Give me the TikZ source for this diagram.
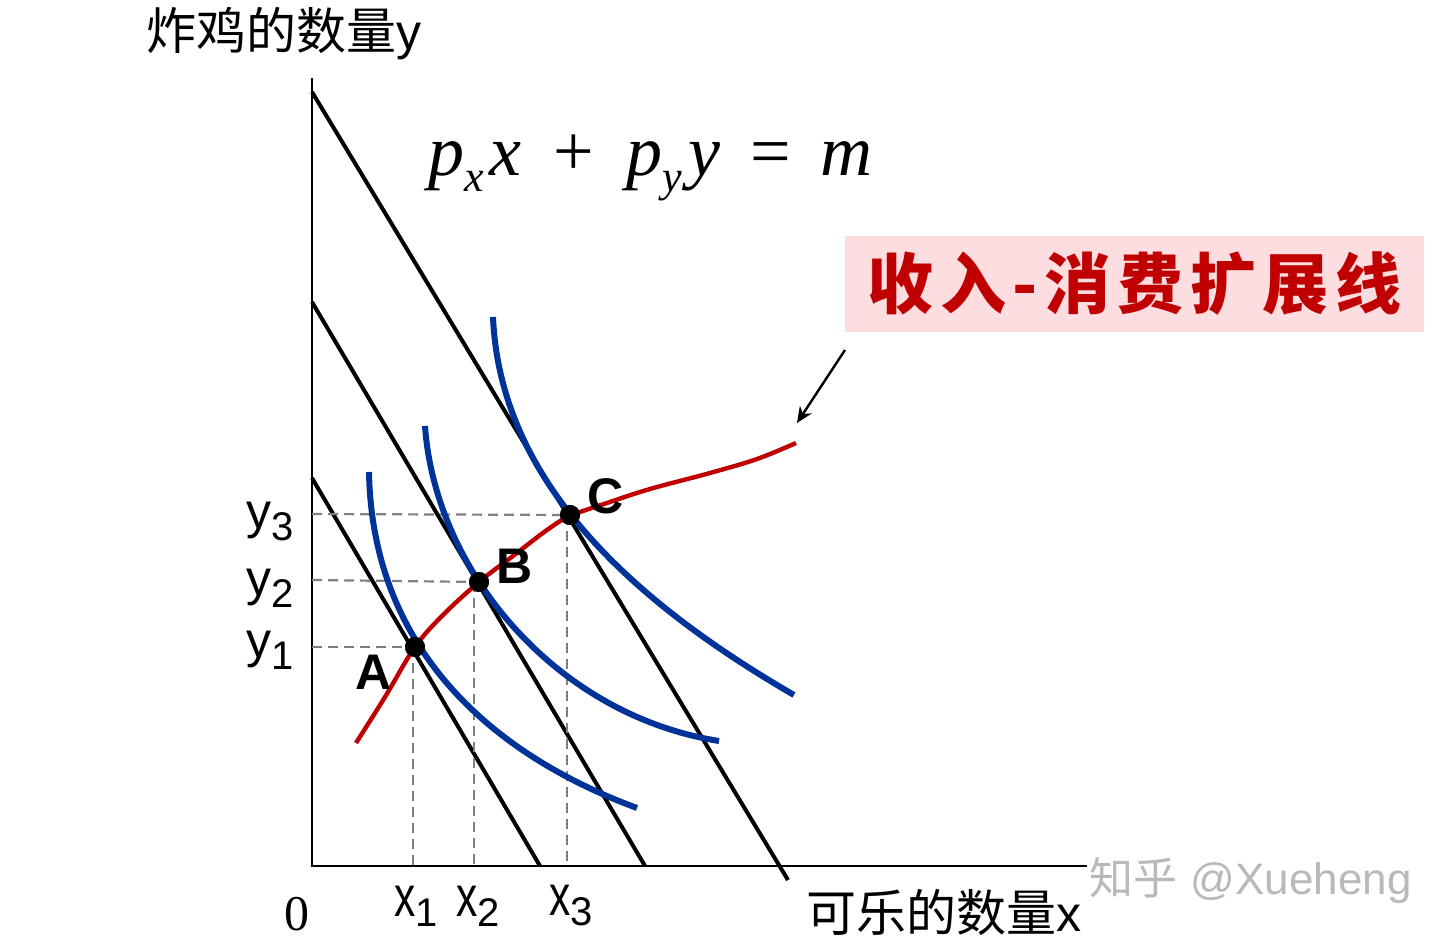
\documentclass[tikz,border=0pt]{standalone}
\usepackage{fontspec}
\usetikzlibrary{arrows.meta}
\newfontfamily\cjk{Noto Sans CJK SC}
\newfontfamily\arialf{Liberation Sans}
\newfontfamily\serf{Liberation Serif}
\definecolor{icblue}{RGB}{0,51,153}
\definecolor{eered}{RGB}{192,0,0}
\definecolor{boxpink}{RGB}{253,221,224}
\definecolor{dashgray}{RGB}{128,128,128}
\newcommand{\fsz}[1]{\fontsize{#1}{1.2\dimexpr #1\relax}\selectfont}
\tikzset{
  axisline/.style={line width=1.3pt, black},
  budget/.style={line width=2pt, black},
  icurve/.style={line width=3pt, icblue},
  eecurve/.style={line width=2.2pt, eered},
  guide/.style={line width=1.1pt, dashgray, dash pattern=on 5pt off 3pt},
  eqpt/.style={circle, fill=black, inner sep=0pt, minimum size=10pt},
  ptlabel/.style={font=\fsz{25pt}\arialf\bfseries, inner sep=0pt},
  ticklabel/.style={font=\fsz{25pt}\arialf, inner sep=0pt},
}
\newcommand{\subx}[2]{\scalebox{0.85}[1.15]{#1}\raisebox{-5pt}{\fsz{20pt}#2}}
\newcommand{\suby}[2]{#1\raisebox{-6pt}{\fsz{20pt}#2}}
\newcommand{\eqsub}[1]{\raisebox{-8pt}{\fsz{22pt}#1}\hspace{3pt}}
\begin{document}
\begin{tikzpicture}[x=0.5pt,y=-0.5pt]
\useasboundingbox (0,0) rectangle (1440,945);
% axes
\coordinate (O) at (312,866);
\coordinate (ytop) at (312,78);
\coordinate (xend) at (1087,866);
\draw[axisline] (ytop) -- (O) -- (xend);
% budget lines
\coordinate (b1s) at (312,478); \coordinate (b1e) at (540,866);
\coordinate (b2s) at (312,302); \coordinate (b2e) at (645,866);
\coordinate (b3s) at (312,92);  \coordinate (b3e) at (788,880);
\draw[budget] (b1s) -- (b1e);
\draw[budget] (b2s) -- (b2e);
\draw[budget] (b3s) -- (b3e);
% equilibrium points
\node[eqpt] (A) at (415,647) {};
\node[eqpt] (B) at (479,582) {};
\node[eqpt] (C) at (570,515) {};
% guide lines
\coordinate (yA) at (312,647); \coordinate (xA) at (413,866);
\coordinate (yB) at (312,580); \coordinate (xB) at (474,866);
\coordinate (yC) at (312,514); \coordinate (xC) at (567,866);
\draw[guide] (yA) -- (A.center);
\draw[guide] (yB) -- (B.center);
\draw[guide] (yC) -- (C.center);
\draw[guide] (xA |- A) -- (xA);
\draw[guide] (xB |- B) -- (xB);
\draw[guide] (xC |- C) -- (xC);
% indifference curves
\coordinate (i1s) at (369,472); \coordinate (i1e) at (637,808);
\coordinate (i2s) at (425,426); \coordinate (i2e) at (719,741);
\coordinate (i3s) at (493,317); \coordinate (i3e) at (794,695);
\draw[icurve] (i1s) .. controls (372,640) and (480,750) .. (i1e);
\draw[icurve] (i2s) .. controls (435,570) and (555,715) .. (i2e);
\draw[icurve] (i3s) .. controls (500,480) and (630,600) .. (i3e);
% income-consumption curve
\draw[eecurve] plot[smooth, tension=0.6] coordinates {(356,743) (385,697) (415,647) (443,615) (479,582) (513,556) (547,530) (570,516) (607,503) (650,489) (710,473) (757,459) (796,443)};
% dots on top
\fill (A) circle (5pt);
\fill (B) circle (5pt);
\fill (C) circle (5pt);
% point labels
\node[ptlabel] (lA) at (374,672) {A};
\node[ptlabel] (lB) at (515,566) {B};
\node[ptlabel] (lC) at (606,496) {C};
% tick labels
\node[ticklabel] (ly3) at (270,521) {\suby{y}{3}};
\node[ticklabel] (ly2) at (270,588) {\suby{y}{2}};
\node[ticklabel] (ly1) at (270,650) {\suby{y}{1}};
\node[ticklabel] (lx1) at (416,906) {\subx{x}{1}};
\node[ticklabel] (lx2) at (478,906) {\subx{x}{2}};
\node[ticklabel] (lx3) at (571,906) {\subx{x}{3}};
\node[inner sep=0pt, font=\fsz{25pt}\serf] (l0) at (297,914) {0};
% axis titles
\node[anchor=west, inner sep=0pt, font=\fsz{25pt}] (ytitle) at (146,34) {{\cjk 炸鸡的数量}{\arialf y}};
\node[anchor=west, inner sep=0pt, font=\fsz{25pt}] (xtitle) at (806,912) {{\cjk 可乐的数量}{\arialf x}};
% equation
\node[anchor=base west, inner sep=0pt, font=\fsz{36pt}\serf] (eq) at (428,176)
  {\textit{p\eqsub{x}x}\hspace{16pt}+\hspace{16pt}\textit{p\eqsub{y}y}\hspace{15pt}=\hspace{15pt}\textit{m}};
% label box
\node[fill=boxpink, minimum width=289.5pt, minimum height=48pt, inner sep=0pt,
      text=eered, font=\fsz{33pt}\cjk\bfseries] (lab) at (1134.5,284)
  {\makebox[267pt]{收\hfill 入\hfill -\hfill 消\hfill 费\hfill 扩\hfill 展\hfill 线}};
\coordinate (arS) at (845,350);
\coordinate (arE) at (797,423);
\draw[line width=1.2pt, -{Stealth[length=8pt, width=7pt]}] (arS) -- (arE);
% watermark
\node[anchor=west, inner sep=0pt, text=gray!55, font=\fsz{22pt}] (wm) at (1089,881) {{\cjk 知乎} {\arialf @Xueheng}};
\end{tikzpicture}
\end{document}
